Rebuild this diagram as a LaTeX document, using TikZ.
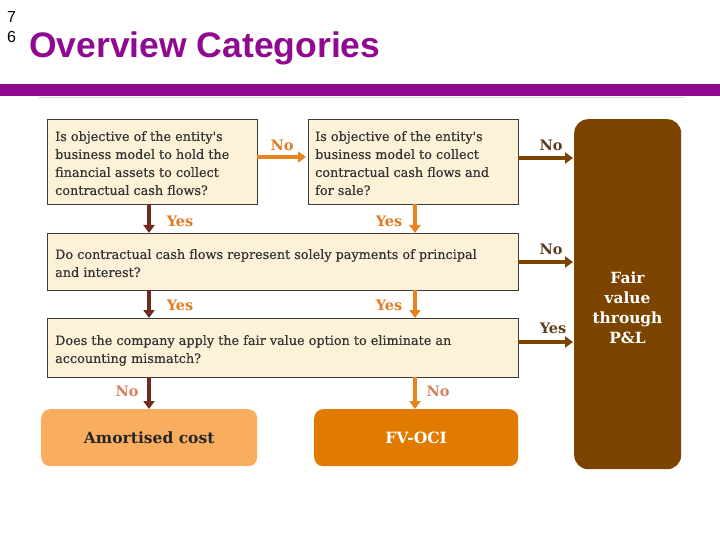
\documentclass[tikz,border=0pt]{standalone}
\usepackage{fontspec}
\setmainfont{DejaVu Serif}
\newfontfamily\qfont[FakeBold=0.5]{DejaVu Serif}
\newfontfamily\titlefont{Liberation Sans}
\usetikzlibrary{arrows.meta,positioning}
\definecolor{ttlpurple}{HTML}{8F0A91}
\definecolor{boxfill}{HTML}{FDF1D8}
\definecolor{boxline}{HTML}{3C3C3C}
\definecolor{txtgrey}{HTML}{333333}
\definecolor{arrorange}{HTML}{E8841E}
\definecolor{arrdark}{HTML}{6E2B22}
\definecolor{arrbrown}{HTML}{7B4400}
\definecolor{lblorange}{HTML}{E07B20}
\definecolor{lblsalmon}{HTML}{D9805E}
\definecolor{lblbrown}{HTML}{5B3B1E}
\definecolor{amfill}{HTML}{F9AE5F}
\definecolor{ocifill}{HTML}{E07B00}
\definecolor{plfill}{HTML}{7B4400}
\tikzset{
  qbox/.style={draw=boxline, line width=1pt, fill=boxfill, inner sep=0pt, anchor=north west},
  qtext/.style={font=\qfont\fontsize{12.8}{18}\selectfont, text=txtgrey, align=left, anchor=north west, inner sep=0pt},
  flow/.style={line width=3.5pt, -{Triangle[width=11pt,length=8pt]}},
  lbl/.style={font=\fontsize{14.5}{15}\selectfont\bfseries, inner sep=0pt},
  result/.style={rounded corners=9pt, inner sep=0pt, anchor=north west},
}
\begin{document}
\begin{tikzpicture}[x=1pt,y=-1pt]
\useasboundingbox (0,0) rectangle (720,540);
% header
\node[font=\titlefont\fontsize{16}{16}\selectfont, anchor=base west, inner sep=0pt] (n7) at (7,23) {7};
\node[font=\titlefont\fontsize{16}{16}\selectfont, anchor=base west, inner sep=0pt] (n6) at (7,43) {6};
\node[font=\titlefont\bfseries\fontsize{35.5}{35}\selectfont, text=ttlpurple, anchor=base west, inner sep=0pt] (title) at (29,58) {Overview Categories};
\fill[ttlpurple] (0,84) rectangle (720,96);
\draw[black!15, line width=0.8pt] (38,97) -- (685,97);
% question boxes
\node[qbox, minimum width=210pt, minimum height=85pt] (q1) at (47,119) {};
\node[qtext] (q1t) at (55,131) {Is objective of the entity's\\business model to hold the\\financial assets to collect\\contractual cash flows?};
\node[qbox, minimum width=210pt, minimum height=85pt] (q2) at (308,119) {};
\node[qtext] (q2t) at (315,131) {Is objective of the entity's\\business model to collect\\contractual cash flows and\\for sale?};
\node[qbox, minimum width=471pt, minimum height=57pt] (q3) at (47,233) {};
\node[qtext] (q3t) at (55,249) {Do contractual cash flows represent solely payments of principal\\and interest?};
\node[qbox, minimum width=471pt, minimum height=59pt] (q4) at (47,318) {};
\node[qtext] (q4t) at (55,335) {Does the company apply the fair value option to eliminate an\\accounting mismatch?};
% results
\node[result, fill=amfill, minimum width=216pt, minimum height=57pt, font=\fontsize{15.5}{17}\selectfont\bfseries, text=black!85] (am) at (41,409) {Amortised cost};
\node[result, fill=ocifill, minimum width=204pt, minimum height=57pt, font=\fontsize{15.5}{17}\selectfont\bfseries, text=white] (oci) at (314,409) {FV-OCI};
\node[result, rounded corners=14pt, fill=plfill, minimum width=107pt, minimum height=350pt] (pl) at (574,119) {};
\node[font=\fontsize{15.4}{20}\selectfont\bfseries, text=white, align=center, inner sep=0pt] (plt) at (627.5,308) {Fair\\value\\through\\P\&L};
% coordinates
\coordinate (c1r) at (257,157);
\coordinate (c2l) at (306,157);
\coordinate (c2r) at (518,158);
\coordinate (p1) at (573,158);
\coordinate (c3r) at (518,262);
\coordinate (p2) at (573,262);
\coordinate (c4r) at (518,342);
\coordinate (p3) at (573,342);
\coordinate (a1) at (149,204);
\coordinate (a1e) at (149,233);
\coordinate (b1) at (415,204);
\coordinate (b1e) at (415,233);
\coordinate (a2) at (149,290);
\coordinate (a2e) at (149,318);
\coordinate (b2) at (415,290);
\coordinate (b2e) at (415,318);
\coordinate (a3) at (149,377);
\coordinate (a3e) at (149,409);
\coordinate (b3) at (415,377);
\coordinate (b3e) at (415,409);
% arrows
\draw[flow, arrorange] (c1r) -- (c2l);
\draw[flow, arrbrown] (c2r) -- (p1);
\draw[flow, arrbrown] (c3r) -- (p2);
\draw[flow, arrbrown] (c4r) -- (p3);
\draw[flow, arrdark] (a1) -- (a1e);
\draw[flow, arrorange] (b1) -- (b1e);
\draw[flow, arrdark] (a2) -- (a2e);
\draw[flow, arrorange] (b2) -- (b2e);
\draw[flow, arrdark] (a3) -- (a3e);
\draw[flow, arrorange] (b3) -- (b3e);
% labels
\node[lbl, text=lblorange] (l1) at (282,145) {No};
\node[lbl, text=lblbrown] (l2) at (551,145) {No};
\node[lbl, text=lblbrown] (l3) at (551,249) {No};
\node[lbl, text=lblbrown] (l4) at (553,328) {Yes};
\node[lbl, text=lblorange] (l5) at (180,221) {Yes};
\node[lbl, text=lblorange] (l6) at (389,221) {Yes};
\node[lbl, text=lblorange] (l7) at (180,305) {Yes};
\node[lbl, text=lblorange] (l8) at (389,305) {Yes};
\node[lbl, text=lblsalmon] (l9) at (127,391) {No};
\node[lbl, text=lblsalmon] (l10) at (438,391) {No};
\end{tikzpicture}
\end{document}
